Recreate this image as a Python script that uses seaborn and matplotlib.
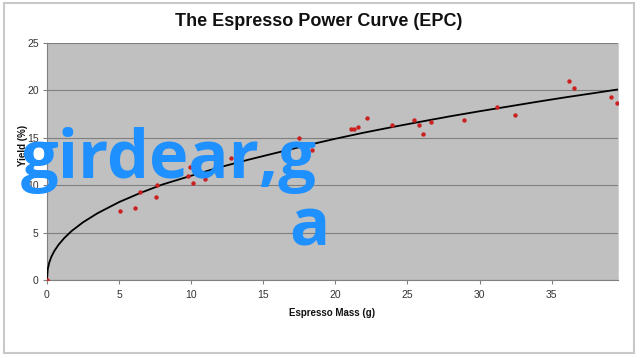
import matplotlib
matplotlib.use("Agg")
import matplotlib.pyplot as plt
import matplotlib.patches as patches
import seaborn as sns
import pandas as pd

# ---- data ----
mass_g = [0.0, 5.06, 6.08, 6.45, 7.56, 7.65, 9.76, 9.92, 10.10, 10.98, 12.74,
          17.45, 18.36, 21.08, 21.30, 21.54, 22.19, 23.95, 25.45, 25.77, 26.07,
          26.65, 28.94, 31.20, 32.43, 36.20, 36.55, 39.11, 39.53]
yield_pct = [0.0, 7.28, 7.63, 9.30, 8.75, 10.05, 10.97, 11.95, 10.27, 10.62, 12.83,
             14.94, 13.75, 15.89, 15.95, 16.10, 17.09, 16.32, 16.84, 16.35, 15.43,
             16.70, 16.91, 18.28, 17.37, 20.99, 20.25, 19.34, 18.67]

curve_x = [0, 0.05, 0.15, 0.3, 0.5, 0.8, 1.2, 1.7, 2.5, 3.5, 5, 6.5, 8, 10, 12,
           14, 16, 18, 20, 22, 24, 26, 28, 30, 32, 34, 36, 38, 39.6]
curve_y = [0, 1.12, 1.81, 2.44, 3.04, 3.72, 4.43, 5.16, 6.09, 7.04, 8.22, 9.20,
           10.07, 11.0, 11.9, 12.7, 13.45, 14.2, 14.9, 15.55, 16.15, 16.72, 17.28,
           17.8, 18.3, 18.8, 19.28, 19.73, 20.1]

x_ticks = [0, 5, 10, 15, 20, 25, 30, 35]
y_ticks = [0, 5, 10, 15, 20, 25]

title = "The Espresso Power Curve (EPC)"
x_label = "Espresso Mass (g)"
y_label = "Yield (%)"
watermark_1 = "girdear,g"
watermark_2 = "a"

points = pd.DataFrame({"mass": mass_g, "yield": yield_pct})
curve = pd.DataFrame({"mass": curve_x, "yield": curve_y})

sns.set_style("white")
plt.rcParams["font.family"] = ["Liberation Sans", "DejaVu Sans"]

W, H = 640, 358
fig = plt.figure(figsize=(W / 100, H / 100), dpi=100)
fig.patch.set_facecolor("white")

left, right, top, bottom = 47, 618, 43, 280
ax = fig.add_axes([left / W, 1 - bottom / H, (right - left) / W, (bottom - top) / H])
ax.set_facecolor("#c0c0c0")

sns.lineplot(data=curve, x="mass", y="yield", ax=ax, color="black", lw=1.3,
             sort=False, estimator=None, zorder=3)
sns.scatterplot(data=points, x="mass", y="yield", ax=ax, color="#cc1f1f",
                marker="o", s=10, linewidth=0, zorder=4)

ax.set_xlim(0, 39.6)
ax.set_ylim(0, 25)
ax.set_xticks(x_ticks)
ax.set_yticks(y_ticks)
ax.set_xlabel("")
ax.set_ylabel("")
ax.grid(axis="y", color="#7f7f7f", lw=0.8)
ax.grid(axis="x", visible=False)
ax.set_axisbelow(True)
ax.tick_params(axis="both", labelsize=7.5, labelcolor="#333333", color="#808080",
               length=3, width=0.8, direction="out")
ax.tick_params(axis="x", pad=4)
ax.tick_params(axis="y", pad=3)
ax.tick_params(bottom=True, left=True)
for s in ["left", "bottom"]:
    ax.spines[s].set_color("#808080")
    ax.spines[s].set_linewidth(0.8)
ax.spines["top"].set_visible(False)
ax.spines["right"].set_color("#d0d0d0")
ax.spines["right"].set_linewidth(0.8)

fig.text(319 / W, 1 - 22 / H, title, ha="center", va="center",
         fontsize=13, fontweight="bold", color="#111111")
fig.text(332 / W, 1 - 313 / H, x_label, ha="center", va="center",
         fontsize=7, fontweight="bold", color="#111111")
fig.text(23 / W, 1 - 145 / H, y_label, ha="center", va="center", rotation=90,
         fontsize=7, fontweight="bold", color="#111111")

# outer chart frame
fig.patches.append(patches.Rectangle((4 / W, 1 - 353 / H), 630 / W, 350 / H,
                                     transform=fig.transFigure, fill=False,
                                     edgecolor="#c8c8c8", lw=1.5))

# watermark overlay
fig.text(21 / W, 1 - 178 / H, watermark_1, ha="left", va="baseline",
         fontsize=48, fontfamily="Open Sans", fontweight="bold",
         color="#1e90ff", zorder=10)
fig.text(289 / W, 1 - 245 / H, watermark_2, ha="left", va="baseline",
         fontsize=48, fontfamily="Open Sans", fontweight="bold",
         color="#1e90ff", zorder=10)

fig.savefig("out.png", dpi=100)
